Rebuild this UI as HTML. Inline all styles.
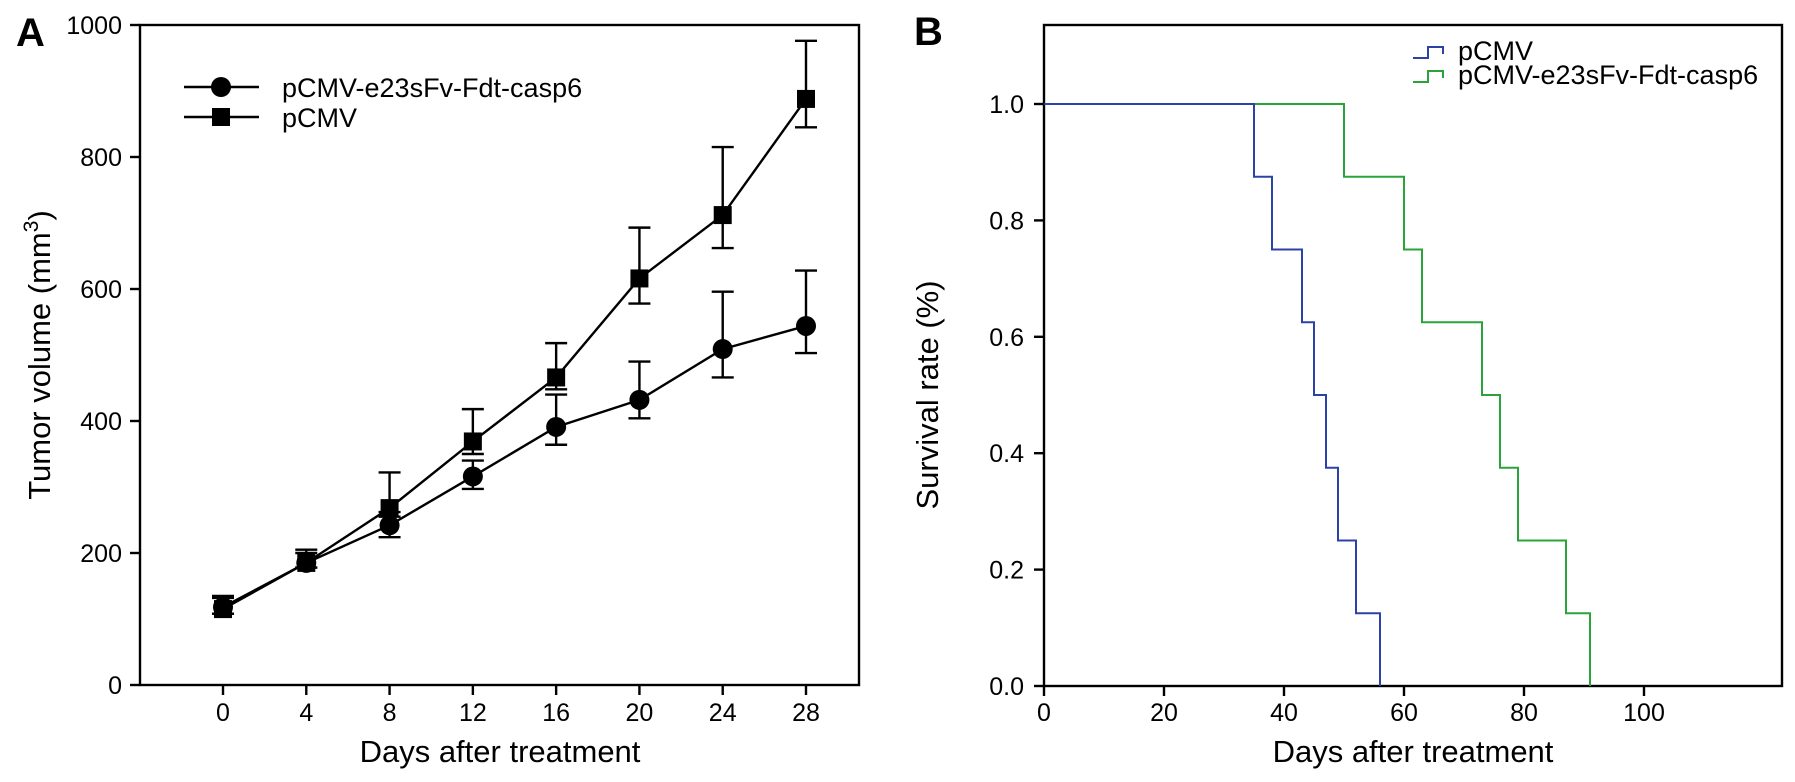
<!DOCTYPE html>
<html><head><meta charset="utf-8"><style>
body{margin:0;background:#fff}
svg{display:block;font-family:"Liberation Sans",Arial,sans-serif}
</style></head><body>
<svg id="s" width="1795" height="782" viewBox="0 0 1795 782">
<text x="16" y="46" font-size="40" font-weight="bold">A</text>
<text x="914" y="45" font-size="40" font-weight="bold">B</text>
<g id="a"></g>
<g id="b"></g>
</svg>
<script>
const days=[0,4,8,12,16,20,24,28];
const treatMean=[118,185,242,316,391,432,509,544];
const treatUp=[132,200,262,340,440,490,596,628];
const treatLo=[108,178,224,297,364,404,466,503];
const ctrlMean=[115,185,268,369,466,616,712,888];
const ctrlUp=[135,205,322,418,518,693,815,976];
const ctrlLo=[108,178,255,350,448,578,662,845];
const aYTicks=[0,200,400,600,800,1000];
const bXTicks=[0,20,40,60,80,100];
const bYTicks=[0,0.2,0.4,0.6,0.8,1.0];
const pcmvTimes=[35,38,43,45,47,49,52,56];
const pcmvSurv=[0.875,0.75,0.625,0.5,0.375,0.25,0.125,0];
const treatTimes=[50,60,63,73,76,79,87,91];
const treatSurv=[0.875,0.75,0.625,0.5,0.375,0.25,0.125,0];
const NS="http://www.w3.org/2000/svg";
function mk(p,t,a,txt){const e=document.createElementNS(NS,t);for(const k in a)e.setAttribute(k,a[k]);if(txt!==undefined)e.textContent=txt;p.appendChild(e);return e;}
// Panel A
const A=document.getElementById('a');
const ax=d=>223+d*(806-223)/28, ay=v=>685-v*(685-25)/1000;
let e=mk(A,'rect',{x:140,y:25,width:719,height:660,fill:'none',stroke:'#000','stroke-width':2.4});

aYTicks.forEach(v=>{let l=mk(A,'line',{x1:130,x2:140,y1:ay(v),y2:ay(v),stroke:'#000','stroke-width':2.4});

let t=mk(A,'text',{x:122,y:ay(v)+9,'font-size':25,'text-anchor':'end'},v);
});
days.forEach(d=>{let l=mk(A,'line',{x1:ax(d),x2:ax(d),y1:685,y2:695,stroke:'#000','stroke-width':2.4});

let t=mk(A,'text',{x:ax(d),y:721,'font-size':25,'text-anchor':'middle'},d);
});
e=mk(A,'text',{x:500,y:762,'font-size':31,'text-anchor':'middle'},'Days after treatment');

e=mk(A,'text',{transform:'translate(50,355) rotate(-90)','font-size':31,'text-anchor':'middle'});

e.innerHTML='Tumor volume (mm<tspan dy="-12" font-size="21">3</tspan><tspan dy="12">)</tspan>';
function series(mean,up,lo,shape,name){
 let pl=mk(A,'polyline',{points:days.map((d,i)=>ax(d)+','+ay(mean[i])).join(' '),fill:'none',stroke:'#000','stroke-width':2.4});
 
 days.forEach((d,i)=>{const x=ax(d);
  let g=mk(A,'path',{d:`M${x},${ay(lo[i])}V${ay(up[i])}M${x-11},${ay(up[i])}H${x+11}M${x-11},${ay(lo[i])}H${x+11}`,stroke:'#000','stroke-width':2.4,fill:'none'});
  
  let m=shape==='c'?mk(A,'circle',{cx:x,cy:ay(mean[i]),r:10,fill:'#000'}):mk(A,'rect',{x:x-9,y:ay(mean[i])-9,width:18,height:18,fill:'#000'});
  });
}
series(treatMean,treatUp,treatLo,'c','treatment');
series(ctrlMean,ctrlUp,ctrlLo,'s','pcmv');
mk(A,'line',{x1:184,x2:259,y1:87,y2:87,stroke:'#000','stroke-width':2.4});
e=mk(A,'circle',{cx:221,cy:87,r:10,fill:'#000'});
mk(A,'line',{x1:184,x2:259,y1:117,y2:117,stroke:'#000','stroke-width':2.4});
e=mk(A,'rect',{x:212,y:108,width:18,height:18,fill:'#000'});
e=mk(A,'text',{x:282,y:97,'font-size':27},'pCMV-e23sFv-Fdt-casp6');
e=mk(A,'text',{x:282,y:127,'font-size':27},'pCMV');
// Panel B
const B=document.getElementById('b');
const bx=t=>1044+t*(1644-1044)/100, by=v=>686-v*(686-104);
e=mk(B,'rect',{x:1044,y:25,width:738,height:661,fill:'none',stroke:'#000','stroke-width':2.4});

bYTicks.forEach(v=>{let l=mk(B,'line',{x1:1034,x2:1044,y1:by(v),y2:by(v),stroke:'#000','stroke-width':2.4});

let t=mk(B,'text',{x:1024,y:by(v)+9,'font-size':25,'text-anchor':'end'},v.toFixed(1));
});
bXTicks.forEach(v=>{let l=mk(B,'line',{x1:bx(v),x2:bx(v),y1:686,y2:696,stroke:'#000','stroke-width':2.4});

let t=mk(B,'text',{x:bx(v),y:721,'font-size':25,'text-anchor':'middle'},v);
});
e=mk(B,'text',{x:1413,y:762,'font-size':31,'text-anchor':'middle'},'Days after treatment');

e=mk(B,'text',{transform:'translate(938,395) rotate(-90)','font-size':31,'text-anchor':'middle'},'Survival rate (%)');

function km(times,surv,color,name){let d=`M${bx(0)},${by(1)}`;
 times.forEach((t,i)=>{d+=`H${bx(t)}V${by(surv[i])}`;});
 let p=mk(B,'path',{d:d,fill:'none',stroke:color,'stroke-width':2});
 }
km(treatTimes,treatSurv,'#2aa43a','treatment');
km(pcmvTimes,pcmvSurv,'#2b43a6','pcmv');
e=mk(B,'path',{d:'M1413,58H1428V47H1443V54',fill:'none',stroke:'#2b43a6','stroke-width':2});
e=mk(B,'path',{d:'M1413,82H1428V71H1443V78',fill:'none',stroke:'#2aa43a','stroke-width':2});
e=mk(B,'text',{x:1458,y:60,'font-size':27},'pCMV');
e=mk(B,'text',{x:1458,y:84,'font-size':27},'pCMV-e23sFv-Fdt-casp6');
</script>
</body></html>
